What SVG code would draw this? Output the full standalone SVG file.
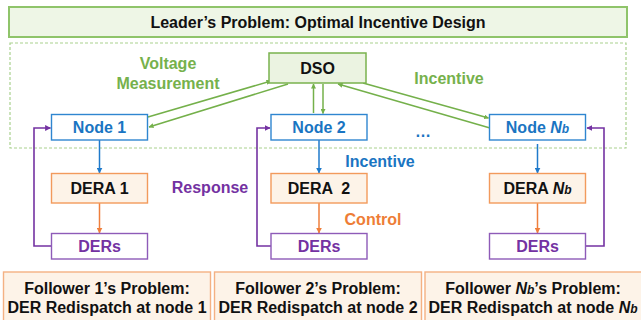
<svg xmlns="http://www.w3.org/2000/svg" width="641" height="320" viewBox="0 0 641 320">
  <style>
    text { font-family: "Liberation Sans", Arial, sans-serif; font-weight: bold; font-size: 16px; text-anchor: middle; }
    .dark { fill: #111111; }
    .green { fill: #76b14c; }
    .blue { fill: #1a75c2; }
    .orange { fill: #ee7d36; }
    .purple { fill: #7432a2; }
    .node { fill: #ffffff; stroke: #2f86d0; stroke-width: 1.4; }
    .dera { fill: #fdf3e8; stroke: #f29a5c; stroke-width: 1.4; }
    .ders { fill: #ffffff; stroke: #8e5bb8; stroke-width: 1.4; }
    .follower { fill: #fdf3e8; stroke: #f4b183; stroke-width: 1.4; }
    .sub { font-size: 12px; }
    .it { font-style: italic; }
    .gline { stroke: #74b04a; stroke-width: 1.5; fill: none; }
    .bline { stroke: #1f7acb; stroke-width: 1.5; fill: none; }
    .oline { stroke: #ef7f3c; stroke-width: 1.5; fill: none; }
    .pline { stroke: #7432a2; stroke-width: 1.6; fill: none; }
  </style>
  <defs>
    <marker id="ag" viewBox="0 0 10 10" refX="9" refY="5" markerWidth="5" markerHeight="5" orient="auto" markerUnits="userSpaceOnUse">
      <path d="M0,0 L10,5 L0,10 z" fill="#74b04a"/>
    </marker>
    <marker id="ab" viewBox="0 0 10 10" refX="9" refY="5" markerWidth="6" markerHeight="6" orient="auto" markerUnits="userSpaceOnUse">
      <path d="M0,0 L10,5 L0,10 z" fill="#1f7acb"/>
    </marker>
    <marker id="ao" viewBox="0 0 10 10" refX="9" refY="5" markerWidth="6" markerHeight="6" orient="auto" markerUnits="userSpaceOnUse">
      <path d="M0,0 L10,5 L0,10 z" fill="#ef7f3c"/>
    </marker>
    <marker id="ap" viewBox="0 0 10 10" refX="9" refY="5" markerWidth="6" markerHeight="6" orient="auto" markerUnits="userSpaceOnUse">
      <path d="M0,0 L10,5 L0,10 z" fill="#7432a2"/>
    </marker>
  </defs>

  <!-- leader banner -->
  <g id="leader">
    <rect x="9" y="7" width="618" height="30" fill="#eef6e6" stroke="#8fc46a" stroke-width="2"/>
    <text x="318" y="28" class="dark">Leader’s Problem: Optimal Incentive Design</text>
  </g>

  <!-- dashed region around DSO and nodes -->
  <rect id="leader-region" x="10" y="43" width="616" height="105" fill="none" stroke="#a9d18e" stroke-width="1.2" stroke-dasharray="3,2"/>

  <!-- connectors -->
  <g id="connectors">
    <!-- DSO <-> nodes -->
    <line class="gline" x1="148" y1="117" x2="271" y2="81" marker-end="url(#ag)"/>
    <line class="gline" x1="288" y1="84" x2="149" y2="127" marker-end="url(#ag)"/>
    <line class="gline" x1="313.5" y1="113" x2="313.5" y2="84" marker-end="url(#ag)"/>
    <line class="gline" x1="323" y1="84" x2="323" y2="113.5" marker-end="url(#ag)"/>
    <line class="gline" x1="363" y1="83" x2="488.5" y2="118" marker-end="url(#ag)"/>
    <line class="gline" x1="490" y1="128" x2="338" y2="84" marker-end="url(#ag)"/>
    <!-- node -> DERA -->
    <line class="bline" x1="99.5" y1="140" x2="99.5" y2="173" marker-end="url(#ab)"/>
    <line class="bline" x1="319" y1="140" x2="319" y2="173" marker-end="url(#ab)"/>
    <line class="bline" x1="537.5" y1="144" x2="537.5" y2="173" marker-end="url(#ab)"/>
    <!-- DERA -> DERs -->
    <line class="oline" x1="99.5" y1="203" x2="99.5" y2="233" marker-end="url(#ao)"/>
    <line class="oline" x1="319" y1="203" x2="319" y2="233" marker-end="url(#ao)"/>
    <line class="oline" x1="537.5" y1="203" x2="537.5" y2="233" marker-end="url(#ao)"/>
    <!-- DERs response back to nodes -->
    <polyline class="pline" points="51,246 34,246 34,128 50.5,128" marker-end="url(#ap)"/>
    <polyline class="pline" points="271,246 257,246 257,128 270,128" marker-end="url(#ap)"/>
    <polyline class="pline" points="586,246 604,246 604,128 587,128" marker-end="url(#ap)"/>
  </g>

  <!-- connector labels -->
  <text x="168" y="69" class="green">Voltage</text>
  <text x="168" y="89" class="green">Measurement</text>
  <text x="449" y="84" class="green">Incentive</text>
  <text x="380" y="167" class="blue">Incentive</text>
  <text x="373" y="225" class="orange">Control</text>
  <text x="210" y="193" class="purple">Response</text>
  <text x="423" y="137" class="blue">…</text>

  <g id="dso">
    <rect x="269" y="53" width="97" height="30" fill="#ebf3e1" stroke="#7ab24e" stroke-width="1.5"/>
    <text x="317.5" y="74" class="dark">DSO</text>
  </g>

  <g id="node-1">
    <rect class="node" x="51.5" y="114.5" width="96" height="25.5"/>
    <text x="99.5" y="133" class="blue">Node 1</text>
  </g>
  <g id="node-2">
    <rect class="node" x="271" y="114.5" width="96" height="25.5"/>
    <text x="319" y="133" class="blue">Node 2</text>
  </g>
  <g id="node-nb">
    <rect class="node" x="489.5" y="114.5" width="96" height="25.5"/>
    <text x="537.5" y="133" class="blue">Node <tspan class="it">N</tspan><tspan class="it sub">b</tspan></text>
  </g>

  <g id="dera-1">
    <rect class="dera" x="51.5" y="173.5" width="96" height="29.5"/>
    <text x="99.5" y="194" class="dark">DERA 1</text>
  </g>
  <g id="dera-2">
    <rect class="dera" x="271" y="173.5" width="96" height="29.5"/>
    <text x="319" y="194" class="dark" xml:space="preserve">DERA  2</text>
  </g>
  <g id="dera-nb">
    <rect class="dera" x="489.5" y="173.5" width="96" height="29.5"/>
    <text x="537.5" y="194" class="dark">DERA <tspan class="it">N</tspan><tspan class="it sub">b</tspan></text>
  </g>

  <g id="ders-1">
    <rect class="ders" x="51.5" y="233.5" width="96" height="25.5"/>
    <text x="99.5" y="252" class="purple">DERs</text>
  </g>
  <g id="ders-2">
    <rect class="ders" x="271" y="233.5" width="96" height="25.5"/>
    <text x="319" y="252" class="purple">DERs</text>
  </g>
  <g id="ders-nb">
    <rect class="ders" x="489.5" y="233.5" width="96" height="25.5"/>
    <text x="537.5" y="252" class="purple">DERs</text>
  </g>

  <g id="follower-1">
    <rect class="follower" x="3.5" y="272" width="207" height="52"/>
    <text x="107" y="294" class="dark">Follower 1’s Problem:</text>
    <text x="107" y="313" class="dark">DER Redispatch at node 1</text>
  </g>
  <g id="follower-2">
    <rect class="follower" x="214.5" y="272" width="207" height="52"/>
    <text x="318" y="294" class="dark">Follower 2’s Problem:</text>
    <text x="318" y="313" class="dark">DER Redispatch at node 2</text>
  </g>
  <g id="follower-nb">
    <rect class="follower" x="425" y="272" width="220" height="52"/>
    <text x="533" y="294" class="dark">Follower <tspan class="it">N</tspan><tspan class="it sub">b</tspan>’s Problem:</text>
    <text x="533" y="313" class="dark">DER Redispatch at node <tspan class="it">N</tspan><tspan class="it sub">b</tspan></text>
  </g>
</svg>
